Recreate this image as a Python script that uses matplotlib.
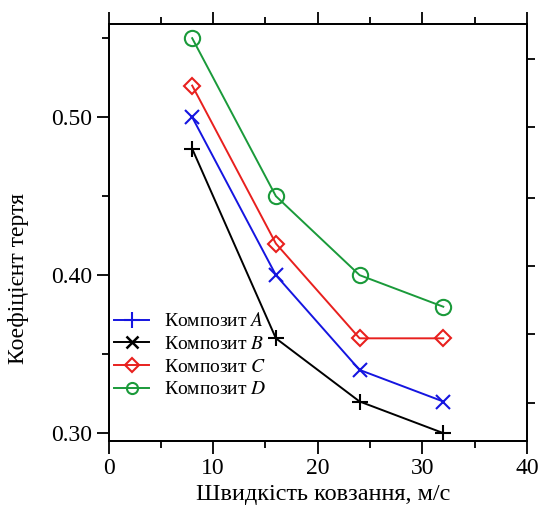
import matplotlib
matplotlib.use('Agg')
import matplotlib.pyplot as plt
from matplotlib.lines import Line2D
from matplotlib.ticker import MultipleLocator

plt.rcParams['font.family'] = ['Liberation Serif', 'DejaVu Serif']
plt.rcParams['mathtext.fontset'] = 'stix'

speed = [8, 16, 24, 32]
comp_a = [0.50, 0.40, 0.34, 0.32]   # blue
comp_b = [0.48, 0.36, 0.32, 0.30]   # black
comp_c = [0.52, 0.42, 0.36, 0.36]   # red
comp_d = [0.55, 0.45, 0.40, 0.38]   # green
labels = ['Композит $\\mathit{A}$', 'Композит $\\mathit{B}$',
          'Композит $\\mathit{C}$', 'Композит $\\mathit{D}$']
right_ticks = [0.319, 0.363, 0.406, 0.449, 0.494, 0.537]

fig = plt.figure(figsize=(5.39, 5.08), dpi=100)
ax = fig.add_axes([0.2013, 0.1319, 0.7764, 0.8209])

ms = 11
lw = 1.4
ax.plot(speed, comp_d, color='#1a9a3a', marker='o', ms=ms, mfc='none', mew=1.5, lw=lw)
ax.plot(speed, comp_c, color='#e8201e', marker='D', ms=8, mfc='none', mew=1.5, lw=lw)
ax.plot(speed, comp_a, color='#1515e0', marker='x', ms=10, mew=1.5, lw=lw)
ax.plot(speed, comp_b, color='black', marker='+', ms=12, mew=1.5, lw=lw)

# legend markers as printed in the source figure
handles = [
    Line2D([], [], color='#1515e0', marker='+', ms=11, mew=1.5, lw=lw),
    Line2D([], [], color='black', marker='x', ms=9, mew=1.8, lw=lw),
    Line2D([], [], color='#e8201e', marker='D', ms=7, mfc='none', mew=1.5, lw=lw),
    Line2D([], [], color='#1a9a3a', marker='o', ms=8, mfc='none', mew=1.5, lw=lw),
]
ax.legend(handles, labels, loc='lower left', bbox_to_anchor=(0.0, 0.088),
          frameon=False, fontsize=14, handlelength=1.8, handletextpad=0.75,
          labelspacing=0.26, borderaxespad=0.0, borderpad=0.3)

ax.set_xlim(0, 40)
ax.set_ylim(0.295, 0.559)
ax.xaxis.set_major_locator(MultipleLocator(10))
ax.xaxis.set_minor_locator(MultipleLocator(5))
ax.set_yticks([0.30, 0.40, 0.50])
ax.set_yticklabels(['0.30', '0.40', '0.50'])
ax.set_yticks([0.35, 0.45, 0.55], minor=True)
ax.tick_params(which='both', direction='out', width=1.3, labelsize=17,
               top=True, right=False)
ax.tick_params(which='major', length=9)
ax.tick_params(which='minor', length=5)
ax.tick_params(axis='x', pad=3)
ax.tick_params(axis='y', pad=3)

ax2 = ax.twinx()
ax2.set_ylim(ax.get_ylim())
ax2.set_yticks(right_ticks)
ax2.set_yticklabels([])
ax2.tick_params(direction='out', length=6, width=1.3)

for a in (ax, ax2):
    for s in a.spines.values():
        s.set_linewidth(1.3)

ax.set_xlabel('Швидкість ковзання, м/с', fontsize=17.5)
ax.set_ylabel('Коефіцієнт тертя', fontsize=17)
ax.xaxis.set_label_coords(0.5125, -0.103)
ax.yaxis.set_label_coords(-0.19, 0.39)

fig.savefig('out.png', dpi=100)
